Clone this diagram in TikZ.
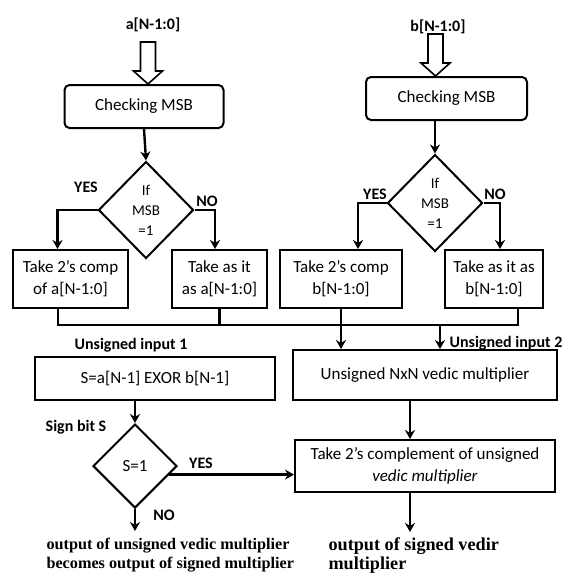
\documentclass[tikz,border=0pt]{standalone}
\usepackage{fontspec}
\setmainfont{Carlito}
\newfontfamily\outfont{Liberation Serif}
\usetikzlibrary{shapes.geometric,arrows.meta,calc}

\tikzset{
  box/.style={draw, line width=2pt, align=center, inner sep=2pt,
    font=\fontsize{17}{22}\selectfont},
  chkbox/.style={box, rounded corners=5pt},
  dec/.style={draw, diamond, line width=2pt, inner sep=0pt, align=center,
    font=\fontsize{15}{20}\selectfont},
  lbl/.style={font=\bfseries\fontsize{16}{18}\selectfont},
  outtxt/.style={anchor=north west, align=left},
  wire/.style={line width=2.4pt},
  arr/.style={wire, -{Stealth[length=9pt,width=10pt]}},
}

\begin{document}
\begin{tikzpicture}[x=1pt,y=-1pt]
  \useasboundingbox (0,0) rectangle (567,574);

  % --- operand a ---
  \node[lbl] (alabel) at (153,25) {a[N-1:0]};
  \node[chkbox, minimum width=159pt, minimum height=43pt] (achk) at (144,106.5) {Checking MSB};
  \node[dec, minimum width=95pt, minimum height=97pt] (adec) at (146,210) {If\\MSB\\=1};
  \node[box, minimum width=115pt, minimum height=58pt] (acomp) at (70.5,279) {Take 2’s comp\\of a[N-1:0]};
  \node[box, minimum width=95pt, minimum height=58pt] (aas) at (219.5,279) {Take as it\\as a[N-1:0]};

  % --- operand b ---
  \node[lbl] (blabel) at (438,27) {b[N-1:0]};
  \node[chkbox, minimum width=161pt, minimum height=43pt] (bchk) at (446.5,98.5) {Checking MSB};
  \node[dec, minimum width=95pt, minimum height=97pt] (bdec) at (435,203) {If\\MSB\\=1};
  \node[box, minimum width=122pt, minimum height=58pt] (bcomp) at (341,279) {Take 2’s comp\\b[N-1:0]};
  \node[box, minimum width=98pt, minimum height=58pt] (bas) at (494,279) {Take as it as\\b[N-1:0]};

  % --- sign bit and product ---
  \node[box, minimum width=240pt, minimum height=43pt] (sgn) at (155,378.5) {S=a[N-1] EXOR b[N-1]};
  \node[box, minimum width=264pt, minimum height=50pt] (mult) at (425,375) {Unsigned NxN vedic multiplier};
  \node[dec, minimum width=84pt, minimum height=84pt, font=\fontsize{17}{20}\selectfont] (sdec) at (135,466) {S=1};
  \node[box, minimum width=260pt, minimum height=52pt] (comp) at (425,466) {Take 2’s complement of unsigned\\\textit{vedic multiplier}};

  % --- labels ---
  \node[lbl] (yesa) at (86,187) {YES};
  \node[lbl] (noa) at (207,201) {NO};
  \node[lbl] (yesb) at (375,194) {YES};
  \node[lbl] (nob) at (495,194) {NO};
  \node[lbl] (in1) at (131,345) {Unsigned input 1};
  \node[lbl] (in2) at (506,343) {Unsigned input 2};
  \node[lbl] (signlbl) at (76,427) {Sign bit S};
  \node[lbl] (yess) at (201,463) {YES};
  \node[lbl] (nos) at (164,515) {NO};
  \node[outtxt, font=\outfont\bfseries\fontsize{16.2}{19}\selectfont] (outa) at (43,535) {output of unsigned vedic multiplier\\becomes output of signed multiplier};
  \node[outtxt, font=\outfont\bfseries\fontsize{18.2}{19}\selectfont] (outb) at (325,534) {output of signed vedir\\multiplier};

  \coordinate (mL) at (58,325);
  \coordinate (mR) at (518,325);
  \coordinate (m2) at (440,325);
  \coordinate (syes) at ($(sdec.east)!0.2!(sdec.south)$);
  \coordinate (noend) at (135,531);
  \coordinate (outend) at (410,532);

  % --- hollow input arrows ---
  \foreach \n/\dx in {achk/4,bchk/-11}
    \draw[line width=1.6pt] ([xshift=\dx pt]\n.north) -- ++(-14.5,-13) -- ++(7,0) -- ++(0,-29)
      -- ++(15,0) -- ++(0,29) -- ++(7,0) -- cycle;

  % --- connectors ---
  \draw[arr] (achk.south) -- (adec.north);
  \draw[arr] (bdec.north |- bchk.south) -- (bdec.north);
  \draw[arr] (adec.west) -| ([xshift=-13pt]acomp.north);
  \draw[arr] (adec.east) -| ([xshift=-4.5pt]aas.north);
  \draw[arr] (bdec.west) -| ([xshift=17pt]bcomp.north);
  \draw[arr] (bdec.east) -| ([xshift=6pt]bas.north);

  \draw[wire] (acomp.south -| mL) -- (mL) -- (mR) -- (bas.south -| mR);
  \draw[wire] (aas.south) -- (aas.south |- mL);
  \draw[arr] (bcomp.south) -- (bcomp.south |- mult.north);
  \draw[arr] (m2) -- (m2 |- mult.north);

  \draw[arr] (sgn.south -| sdec.north) -- (sdec.north);
  \draw[arr] (mult.south -| outend) -- (comp.north -| outend);
  \draw[arr] (syes) -- (syes -| comp.west);
  \draw[arr] (sdec.south) -- (noend);
  \draw[arr] (comp.south -| outend) -- (outend);
\end{tikzpicture}
\end{document}
